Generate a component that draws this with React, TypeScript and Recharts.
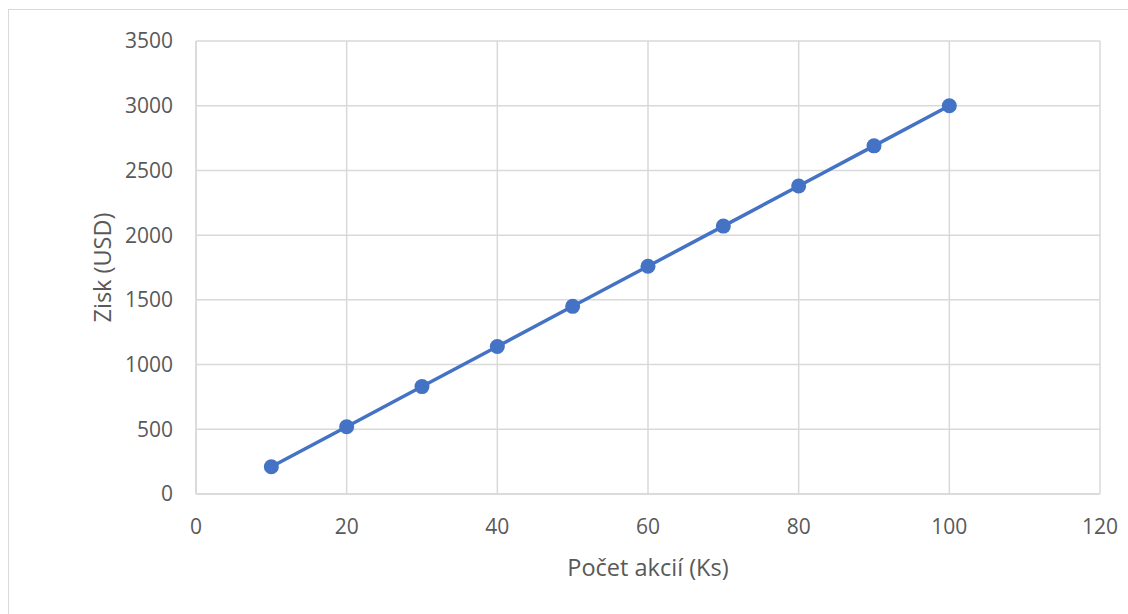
import { LineChart, Line, XAxis, YAxis, CartesianGrid } from 'recharts';

const shares = [10, 20, 30, 40, 50, 60, 70, 80, 90, 100];
const profit = [210, 520, 830, 1140, 1450, 1760, 2070, 2380, 2690, 3000];
const xTicks = [0, 20, 40, 60, 80, 100, 120];
const yTicks = [0, 500, 1000, 1500, 2000, 2500, 3000, 3500];

const data = shares.map((s, i) => ({ shares: s, profit: profit[i] }));

const GRID = '#d9d9d9';
const TEXT = '#595959';
const BLUE = '#4472C4';
const FONT = '"Open Sans", sans-serif';

export default function App() {
  return (
    <div style={{ position: 'fixed', left: 0, top: 0, width: 1128, height: 614, background: '#fff', overflow: 'hidden' }}>
      <div
        style={{
          position: 'absolute',
          left: 8,
          top: 9,
          width: 1200,
          height: 700,
          borderLeft: `1.5px solid ${GRID}`,
          borderTop: `1.5px solid ${GRID}`,
        }}
      />
      <div style={{ position: 'absolute', left: 0, top: 0 }}>
        <LineChart width={1128} height={614} data={data} margin={{ top: 41, right: 28, bottom: 0, left: 0 }}>
          <CartesianGrid stroke={GRID} strokeWidth={1.5} />
          <XAxis
            dataKey="shares"
            type="number"
            domain={[0, 120]}
            ticks={xTicks}
            height={120}
            tickLine={false}
            tickSize={0}
            tickMargin={25}
            axisLine={{ stroke: GRID, strokeWidth: 1.5 }}
            tick={{ fill: TEXT, fontSize: 21, fontFamily: FONT }}
            label={{ value: 'Počet akcií (Ks)', position: 'insideBottom', offset: 38, fill: TEXT, fontSize: 23.5, fontFamily: FONT }}
          />
          <YAxis
            type="number"
            domain={[0, 3500]}
            ticks={yTicks}
            width={196}
            tickLine={false}
            tickSize={0}
            tickMargin={23}
            axisLine={{ stroke: GRID, strokeWidth: 1.5 }}
            tick={{ fill: TEXT, fontSize: 21, fontFamily: FONT }}
            label={{ value: 'Zisk (USD)', position: 'center', angle: -90, dx: 5, fill: TEXT, fontSize: 23.5, fontFamily: FONT }}
          />
          <Line
            dataKey="profit"
            stroke={BLUE}
            strokeWidth={3.5}
            dot={{ r: 7.5, fill: BLUE, stroke: BLUE, strokeWidth: 0 }}
            activeDot={false}
            isAnimationActive={false}
          />
        </LineChart>
      </div>
    </div>
  );
}
